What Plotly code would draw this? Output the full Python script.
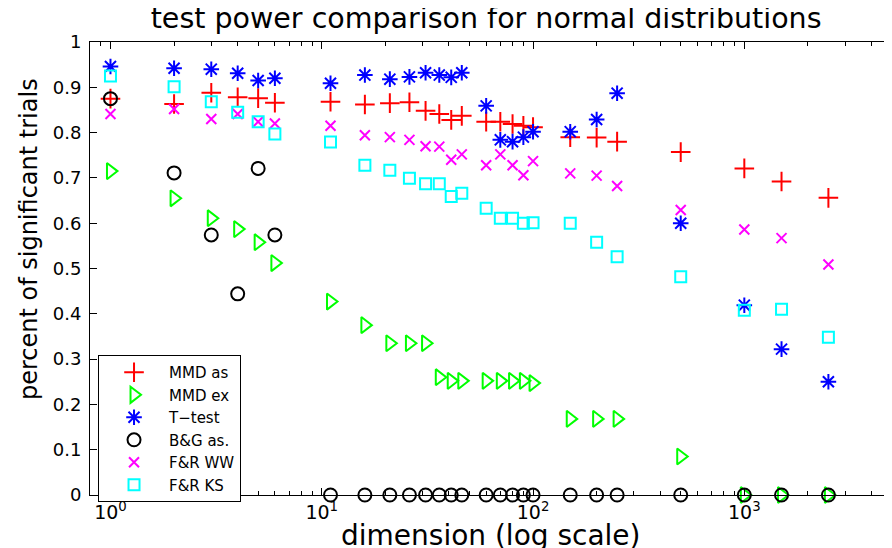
import plotly.graph_objects as go

dims = [1, 2, 3, 4, 5, 6, 11, 16, 21, 26, 31, 36, 41, 46, 60, 70, 80, 90, 100,
        150, 200, 250, 500, 1000, 1500, 2500]

mmd_as = [0.875, 0.863, 0.888, 0.878, 0.876, 0.866, 0.868, 0.862, 0.865, 0.867,
          0.848, 0.841, 0.828, 0.837, 0.824, 0.824, 0.819, 0.815, 0.812,
          0.790, 0.789, 0.780, 0.757, 0.721, 0.692, 0.656]
mmd_ex = [0.715, 0.655, 0.611, 0.587, 0.558, 0.512, 0.427, 0.375, 0.335, 0.335,
          0.335, 0.260, 0.252, 0.252, 0.252, 0.252, 0.252, 0.252, 0.247,
          0.168, 0.168, 0.168, 0.085, 0.0, 0.0, 0.0]
t_test = [0.946, 0.942, 0.940, 0.931, 0.915, 0.920, 0.909, 0.927, 0.918, 0.923,
          0.932, 0.927, 0.922, 0.932, 0.859, 0.784, 0.780, 0.790, 0.802,
          0.802, 0.829, 0.887, 0.600, 0.419, 0.322, 0.250]
bg_as = [0.875, 0.711, 0.574, 0.444, 0.721, 0.574, 0.0, 0.0, 0.0, 0.0,
         0.0, 0.0, 0.0, 0.0, 0.0, 0.0, 0.0, 0.0, 0.0,
         0.0, 0.0, 0.0, 0.0, 0.0, 0.0, 0.0]
fr_ww = [0.841, 0.852, 0.830, 0.841, 0.824, 0.820, 0.815, 0.794, 0.790, 0.784,
         0.770, 0.769, 0.740, 0.752, 0.728, 0.752, 0.728, 0.706, 0.737,
         0.710, 0.705, 0.682, 0.629, 0.586, 0.567, 0.509]
fr_ks = [0.925, 0.901, 0.868, 0.845, 0.824, 0.797, 0.779, 0.728, 0.717, 0.699,
         0.687, 0.687, 0.659, 0.666, 0.633, 0.611, 0.611, 0.600, 0.601,
         0.600, 0.558, 0.526, 0.482, 0.408, 0.410, 0.348]

names = ["MMD as", "MMD ex", "T\u2212test", "B&G as.", "F&R WW", "F&R KS"]
series = [mmd_as, mmd_ex, t_test, bg_as, fr_ww, fr_ks]
colors = ["#ff0000", "#00ff00", "#0000ff", "#000000", "#ff00ff", "#00ffff"]
symbols = ["cross-thin-open", "triangle-right-open", "asterisk-open",
           "circle-open", "x-thin-open", "square-open"]
sizes = [14, 14, 13, 13, 10, 11]

x_tickvals = [1, 10, 100, 1000]
x_ticktext = ["10<sup>0</sup>", "10<sup>1</sup>", "10<sup>2</sup>", "10<sup>3</sup>"]
y_tickvals = [0, 0.1, 0.2, 0.3, 0.4, 0.5, 0.6, 0.7, 0.8, 0.9, 1]
y_ticktext = ["0", "0.1", "0.2", "0.3", "0.4", "0.5", "0.6", "0.7", "0.8", "0.9", "1"]
minor_x = [m * 10 ** d for d in range(-1, 4) for m in range(2, 10)
           if 0.8 <= m * 10 ** d <= 5000]

FONT = "DejaVu Sans"

fig = go.Figure()
for name, ys, c, s, sz in zip(names, series, colors, symbols, sizes):
    fig.add_trace(go.Scatter(
        x=dims, y=ys, mode="markers", name=name, cliponaxis=False,
        marker=dict(symbol=s, size=sz, color=c, line=dict(color=c, width=2)),
    ))

# the page body adds an 8px offset; margins compensate for it
fig.update_layout(
    width=892, height=548,
    margin=dict(l=82, r=8, t=34, b=61),
    paper_bgcolor="white", plot_bgcolor="white",
    font=dict(family=FONT, color="black", size=18),
    showlegend=True,
    legend=dict(
        x=0.01, y=0.309, xanchor="left", yanchor="top",
        bordercolor="black", borderwidth=1, bgcolor="white",
        font=dict(family=FONT, size=15, color="black"),
        itemwidth=60,
    ),
    xaxis=dict(
        type="log", range=[-0.09691, 3.69897],
        tickmode="array", tickvals=x_tickvals, ticktext=x_ticktext,
        ticks="inside", ticklen=7, tickcolor="black",
        showline=True, linecolor="black", linewidth=1, mirror="allticks",
        showgrid=False, zeroline=False,
        tickfont=dict(family=FONT, size=19),
        minor=dict(tickvals=minor_x, ticks="inside", ticklen=4,
                   tickcolor="black", showgrid=False),
    ),
    yaxis=dict(
        range=[0, 1], tickmode="array", tickvals=y_tickvals, ticktext=y_ticktext,
        ticks="inside", ticklen=7, tickcolor="black",
        showline=True, linecolor="black", linewidth=1, mirror="allticks",
        showgrid=False, zeroline=False,
        tickfont=dict(family=FONT, size=18),
        ticklabelstandoff=4,
    ),
    title=dict(text="test power comparison for normal distributions",
               x=0.536, xref="container", y=0.982, yref="container",
               xanchor="center", yanchor="middle",
               font=dict(family=FONT, size=28.5, color="black")),
    annotations=[
        dict(text="dimension (log scale)", xref="paper", yref="paper",
             x=0.5, y=0, yshift=-40, showarrow=False,
             xanchor="center", yanchor="middle",
             font=dict(family=FONT, size=28, color="black")),
        dict(text="percent of significant trials", xref="paper", yref="paper",
             x=0, y=0.565, xshift=-61, showarrow=False, textangle=-90,
             xanchor="center", yanchor="middle",
             font=dict(family=FONT, size=24, color="black")),
    ],
)

fig.write_html("out.html")
